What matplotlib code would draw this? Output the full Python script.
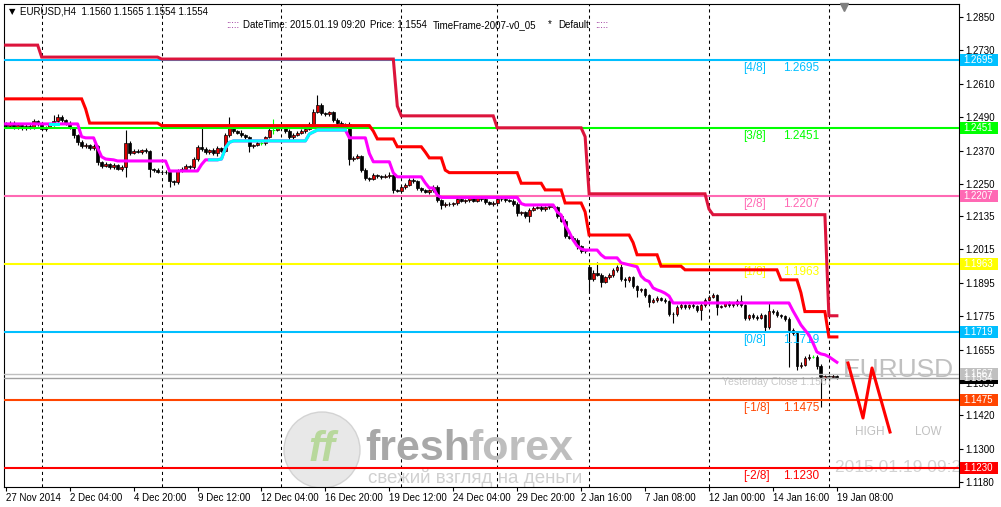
import numpy as np
import matplotlib.pyplot as plt
from matplotlib.patches import Rectangle, Ellipse
from matplotlib.transforms import blended_transform_factory

# EURUSD H4 candles, 27 Nov 2014 .. 19 Jan 2015 08:00 (one value per bar)
closes = [
    1.2460, 1.2470, 1.2455, 1.2462, 1.2450, 1.2458, 1.2452, 1.2475, 1.2465, 1.2448,
    1.2455, 1.2462, 1.2478, 1.2490, 1.2480, 1.2470, 1.2452, 1.2425, 1.2400, 1.2385,
    1.2390, 1.2380, 1.2385, 1.2328, 1.2315, 1.2322, 1.2310, 1.2318, 1.2305, 1.2312,
    1.2398, 1.2362, 1.2370, 1.2365, 1.2372, 1.2368, 1.2305, 1.2300, 1.2295, 1.2292,
    1.2295, 1.2260, 1.2256, 1.2300, 1.2305, 1.2315, 1.2310, 1.2340, 1.2383, 1.2375,
    1.2365, 1.2372, 1.2360, 1.2378, 1.2370, 1.2426, 1.2450, 1.2440, 1.2435, 1.2425,
    1.2418, 1.2385, 1.2390, 1.2398, 1.2398, 1.2419, 1.2445, 1.2445, 1.2450, 1.2455,
    1.2440, 1.2418, 1.2428, 1.2435, 1.2442, 1.2448, 1.2465, 1.2509, 1.2534, 1.2505,
    1.2500, 1.2508, 1.2480, 1.2470, 1.2462, 1.2465, 1.2340, 1.2345, 1.2352, 1.2302,
    1.2272, 1.2268, 1.2282, 1.2278, 1.2275, 1.2280, 1.2284, 1.2229, 1.2226, 1.2240,
    1.2247, 1.2265, 1.2260, 1.2236, 1.2228, 1.2222, 1.2228, 1.2240, 1.2193, 1.2175,
    1.2180, 1.2178, 1.2182, 1.2195, 1.2190, 1.2192, 1.2200, 1.2190, 1.2200, 1.2195,
    1.2185, 1.2180, 1.2183, 1.2195, 1.2198, 1.2192, 1.2190, 1.2180, 1.2145, 1.2150,
    1.2135, 1.2157, 1.2165, 1.2168, 1.2160, 1.2168, 1.2172, 1.2168, 1.2135, 1.2118,
    1.2062, 1.2058, 1.2050, 1.2026, 1.2008, 1.2010, 1.1908, 1.1932, 1.1925, 1.1900,
    1.1915, 1.1925, 1.1940, 1.1952, 1.1910, 1.1905, 1.1915, 1.1885, 1.1868, 1.1872,
    1.1850, 1.1828, 1.1832, 1.1840, 1.1835, 1.1830, 1.1785, 1.1782, 1.1808, 1.1815,
    1.1808, 1.1815, 1.1812, 1.1798, 1.1815, 1.1835, 1.1845, 1.1850, 1.1810, 1.1812,
    1.1822, 1.1815, 1.1818, 1.1830, 1.1815, 1.1768, 1.1780, 1.1772, 1.1770, 1.1778,
    1.1735, 1.1795, 1.1790, 1.1780, 1.1775, 1.1765, 1.1725, 1.1715, 1.1595, 1.1600,
    1.1625, 1.1630, 1.1630, 1.1595, 1.1555, 1.1560, 1.1558, 1.1562, 1.1554,
]
first_open = 1.2468
gap_opens = {146: 1.1953}  # weekend gap on 5 Jan

# wick lengths in pips above / below the body
wick_up = [
    6, 8, 5, 7, 4, 6, 9, 10, 5, 6, 5, 7, 20, 12, 8, 5, 6, 4, 5, 7,
    6, 5, 8, 6, 5, 7, 4, 6, 5, 8, 46, 6, 5, 7, 4, 6, 5, 4, 6, 5,
    5, 4, 6, 5, 7, 6, 5, 6, 8, 69, 7, 5, 6, 8, 5, 7, 40, 6, 5, 9,
    6, 5, 4, 6, 8, 5, 6, 39, 6, 5, 4, 6, 5, 7, 6, 5, 8, 10, 36, 8,
    5, 6, 5, 7, 6, 5, 8, 5, 6, 4, 6, 5, 7, 5, 6, 5, 8, 6, 5, 7,
    6, 8, 5, 6, 4, 5, 6, 8, 7, 5, 5, 6, 4, 8, 5, 6, 7, 5, 8, 6,
    5, 4, 6, 7, 8, 13, 5, 6, 5, 4, 5, 6, 8, 5, 6, 5, 7, 6, 5, 4,
    6, 5, 7, 5, 6, 5, 12, 10, 38, 6, 5, 6, 8, 7, 10, 5, 6, 5, 4, 6,
    5, 6, 7, 8, 5, 6, 5, 4, 6, 7, 5, 6, 7, 5, 8, 6, 5, 7, 6, 5,
    6, 8, 5, 6, 22, 6, 5, 7, 6, 8, 6, 31, 5, 6, 4, 5, 6, 8, 5, 10,
    6, 8, 6, 5, 8, 6, 5, 6, 4,
]
wick_dn = [
    6, 5, 8, 6, 7, 5, 6, 4, 7, 5, 6, 5, 4, 5, 6, 7, 5, 8, 10, 6,
    5, 7, 6, 8, 6, 5, 7, 5, 6, 7, 36, 6, 5, 4, 6, 5, 29, 6, 5, 7,
    6, 20, 8, 5, 6, 5, 7, 5, 6, 5, 6, 7, 5, 8, 6, 5, 6, 7, 5, 6,
    7, 20, 6, 5, 8, 6, 5, 15, 5, 6, 6, 8, 5, 6, 5, 7, 5, 6, 5, 6,
    5, 6, 8, 5, 6, 7, 20, 6, 5, 8, 7, 6, 5, 8, 6, 5, 7, 10, 6, 5,
    6, 5, 7, 8, 6, 5, 6, 5, 9, 14, 6, 5, 7, 6, 5, 8, 6, 5, 6, 7,
    6, 5, 7, 5, 6, 6, 5, 7, 8, 6, 7, 21, 5, 6, 7, 5, 6, 5, 8, 6,
    7, 6, 5, 8, 6, 5, 49, 6, 5, 20, 6, 5, 7, 5, 8, 25, 6, 8, 23, 5,
    6, 19, 5, 6, 5, 7, 8, 31, 6, 5, 6, 5, 7, 8, 36, 5, 6, 5, 30, 6,
    5, 6, 5, 7, 6, 8, 5, 6, 7, 5, 16, 6, 5, 7, 6, 8, 132, 8, 13, 6,
    5, 6, 6, 8, 106, 7, 5, 6, 5,
]

# step lines of the indicator (bar index, price)
upper_bars = [0, 8, 9, 38, 39, 97, 98, 99, 122, 123, 144, 145, 146, 175, 176, 177, 205, 206, 208]
upper_vals = [1.2749, 1.2749, 1.2706, 1.2706, 1.2699, 1.2699, 1.2530, 1.2495, 1.2495, 1.2452,
              1.2452, 1.2420, 1.2215, 1.2215, 1.2160, 1.2140, 1.2140, 1.1777, 1.1777]
stop_bars = [0, 19, 20, 21, 38, 39, 91, 92, 93, 97, 98, 104, 105, 106, 109, 110, 111, 128, 129, 134,
             135, 139, 140, 144, 145, 146, 156, 157, 158, 163, 164, 169, 170, 193, 194, 198, 199, 200, 205, 206, 208]
stop_vals = [1.2556, 1.2556, 1.2520, 1.2469, 1.2469, 1.2460, 1.2460, 1.2440, 1.2412, 1.2412,
             1.2384, 1.2384, 1.2365, 1.2344, 1.2344, 1.2300, 1.2291, 1.2291, 1.2253, 1.2253,
             1.2229, 1.2229, 1.2182, 1.2182, 1.2150, 1.2067, 1.2067, 1.2040, 1.1996, 1.1996,
             1.1955, 1.1955, 1.1942, 1.1942, 1.1906, 1.1906, 1.1860, 1.1792, 1.1792, 1.1701, 1.1701]
ma_bars = [0, 11, 13, 18, 19, 20, 22, 23, 24, 25, 27, 28, 40, 41, 48, 49, 50, 51, 53, 54,
           55, 56, 57, 75, 76, 77, 78, 85, 86, 90, 91, 92, 96, 97, 98, 104, 105, 106, 107, 108,
           109, 128, 129, 130, 137, 138, 139, 140, 141, 142, 143, 144, 145, 148, 149, 150, 153, 154, 156, 158,
           159, 160, 161, 162, 163, 164, 165, 166, 167, 196, 197, 198, 199, 200, 201, 202, 203, 204, 205,
           206, 207, 208]
ma_vals = [1.2466, 1.2466, 1.2466, 1.2466, 1.2420, 1.2416, 1.2416, 1.2380, 1.2348, 1.2340,
           1.2337, 1.2333, 1.2333, 1.2297, 1.2297, 1.2320, 1.2337, 1.2337, 1.2337, 1.2340,
           1.2380, 1.2400, 1.2405, 1.2405, 1.2430, 1.2437, 1.2444, 1.2444, 1.2416, 1.2416,
           1.2360, 1.2330, 1.2330, 1.2290, 1.2276, 1.2276, 1.2254, 1.2236, 1.2236, 1.2210,
           1.2202, 1.2202, 1.2180, 1.2175, 1.2175, 1.2150, 1.2139, 1.2103, 1.2078, 1.2049,
           1.2028, 1.2017, 1.2013, 1.2013, 1.1996, 1.1985, 1.1985, 1.1967, 1.1960, 1.1953,
           1.1920, 1.1906, 1.1900, 1.1877, 1.1870, 1.1865, 1.1858, 1.1848, 1.1823, 1.1823,
           1.1795, 1.1770, 1.1744, 1.1726, 1.1708, 1.1680, 1.1647, 1.1640, 1.1637, 1.1630,
           1.1620, 1.1610]
ma_up_ranges = [(11, 13), (51, 85)]

# Murrey math levels
level_names = ['[4/8]', '[3/8]', '[2/8]', '[1/8]', '[0/8]', '[-1/8]', '[-2/8]']
level_vals = [1.2695, 1.2451, 1.2207, 1.1963, 1.1719, 1.1475, 1.1230]
level_colors = ['#00BFFF', '#00FF00', '#FF69B4', '#FFFF00', '#00BFFF', '#FF4500', '#FF0000']
yest_close = 1.1567
bid = 1.1554

tick_bars = [0, 16, 32, 48, 64, 80, 96, 112, 128, 144, 160, 176, 192, 208]
tick_labels = ['27 Nov 2014', '2 Dec 04:00', '4 Dec 20:00', '9 Dec 12:00', '12 Dec 04:00',
               '16 Dec 20:00', '19 Dec 12:00', '24 Dec 04:00', '29 Dec 20:00', '2 Jan 16:00',
               '7 Jan 08:00', '12 Jan 00:00', '14 Jan 16:00', '19 Jan 08:00']
week_bars = [9, 39, 69, 99, 123, 146, 176, 206]
price_ticks = [1.2850, 1.2730, 1.2610, 1.2490, 1.2370, 1.2250, 1.2135, 1.2015,
               1.1895, 1.1775, 1.1655, 1.1535, 1.1420, 1.1300, 1.1180]

plt.rcParams['font.family'] = ['Liberation Sans', 'DejaVu Sans']

fig = plt.figure(figsize=(10.01, 5.07), dpi=100)
ax = fig.add_axes([4 / 1001, 20 / 507, 955 / 1001, 483 / 507])
ax.set_xlim(-0.425, 238.56)
ax.set_ylim(1.11620, 1.28967)
px_price = (1.2850 - 1.1180) / 465


def axf(px, py):
    # pixel position -> axes fraction
    return (px - 4) / 955, (487 - py) / 483


# weekly separators
for b in week_bars:
    ax.axvline(b, color='black', lw=0.75, ls=(0, (3, 3)), zorder=1)

# candles
c = np.array(closes)
o = np.r_[first_open, c[:-1]]
for i, g in gap_opens.items():
    o[i] = g
hi = np.maximum(o, c) + np.array(wick_up) / 1e4
lo = np.minimum(o, c) - np.array(wick_dn) / 1e4
x = np.arange(len(c))
doji = c == o
bull = c > o
bear = c < o
ax.vlines(x[~doji], lo[~doji], hi[~doji], color='black', lw=0.8, zorder=2)
ax.vlines(x[doji], lo[doji], hi[doji], color='#00FF00', lw=0.8, zorder=2)
ax.hlines(c[doji], x[doji] - 0.35, x[doji] + 0.35, color='#00FF00', lw=0.8, zorder=2)
ax.bar(x[bull], (c - o)[bull], bottom=o[bull], width=0.7, color='#E00000',
       edgecolor='black', lw=0.5, zorder=2.1)
ax.bar(x[bear], (o - c)[bear], bottom=c[bear], width=0.7, color='black',
       edgecolor='black', lw=0.5, zorder=2.1)

# levels
for name, val, col in zip(level_names, level_vals, level_colors):
    ax.axhline(val, color=col, lw=1.5, zorder=3)
    ax.text(184.5, val - 8 * px_price, name, color=col, fontsize=8.5, va='center', ha='left', zorder=3)
    ax.text(194.5, val - 8 * px_price, f'{val:.4f}', color=col, fontsize=8.5, va='center', ha='left', zorder=3)
ax.axhline(yest_close, color='#C0C0C0', lw=1, zorder=3)
ax.axhline(bid, color='#A0A0A0', lw=1, zorder=3)
ax.text(179.3, 1.15391, f'Yesterday Close {yest_close:.4f}', color='#C8C8C8', fontsize=7.5,
        va='center', ha='left', zorder=2.5)

# indicator lines
ax.plot(upper_bars, upper_vals, color='#DC143C', lw=2.2, zorder=4, solid_joinstyle='miter')
ax.plot(stop_bars, stop_vals, color='#FF0000', lw=2.2, zorder=4, solid_joinstyle='miter')
ax.plot(ma_bars, ma_vals, color='#FF00FF', lw=2.2, zorder=4)
mb = np.array(ma_bars)
mv = np.array(ma_vals)
for a, b in ma_up_ranges:
    m = (mb >= a) & (mb <= b)
    ax.plot(mb[m], mv[m], color='#00FFFF', lw=2.2, zorder=4.1)

# right side decorations
ax.text(*axf(843, 370), 'EURUSD', transform=ax.transAxes, color='#C0C0C0', fontsize=19,
        va='center', ha='left', zorder=2)
zx = [848, 863, 872, 890]
zy = [363, 418, 368, 432]
zz = [axf(a, b) for a, b in zip(zx, zy)]
ax.plot([p[0] for p in zz], [p[1] for p in zz], transform=ax.transAxes, color='#FF0000', lw=2.2, zorder=4)
ax.text(*axf(870, 432), 'HIGH', transform=ax.transAxes, color='#C0C0C0', fontsize=8.5, va='center', ha='center')
ax.text(*axf(928, 432), 'LOW', transform=ax.transAxes, color='#C0C0C0', fontsize=8.5, va='center', ha='center')
ax.text(*axf(835, 468), '2015.01.19 09:20', transform=ax.transAxes, color='#D3D3D3', fontsize=12.5,
        va='center', ha='left', clip_on=True, zorder=2)
ax.plot(*axf(844, 7), marker='v', ms=6, color='#808080', transform=ax.transAxes, clip_on=False, zorder=6)

# watermark
ax.add_patch(Ellipse(axf(322, 450), 76 / 955, 76 / 483, transform=ax.transAxes,
                     fc='#E6E6E6', ec='#D0D0D0', lw=1, zorder=1.5, alpha=0.9))
ax.text(*axf(322, 450), 'ff', transform=ax.transAxes, color='#B8D89C', fontsize=30, fontweight='bold',
        style='italic', va='center', ha='center', zorder=1.6)
ax.text(*axf(365, 449), 'fresh', transform=ax.transAxes, color='#A8A8A8', fontsize=31,
        fontweight='bold', va='center', ha='left', zorder=1.6)
ax.text(*axf(468, 449), 'forex', transform=ax.transAxes, color='#BEBEBE', fontsize=31,
        fontweight='bold', va='center', ha='left', zorder=1.6)
ax.text(*axf(368, 478), 'свежий взгляд на деньги', transform=ax.transAxes, color='#D0D0D0',
        fontsize=13.5, va='center', ha='left', zorder=1.6)

# price labels on the right
bt = blended_transform_factory(ax.transAxes, ax.transData)
box_h = 12 * px_price
boxes = list(zip(level_vals, level_colors)) + [(bid, 'black'), (yest_close, '#C0C0C0')]
for val, col in boxes:
    ax.add_patch(Rectangle((1.0008, val - box_h / 2), 38 / 955, box_h, transform=bt,
                           fc=col, ec='none', clip_on=False, zorder=5))
    ax.text(1.0008 + 4 / 955, val, f'{val:.4f}', transform=bt, color='white', fontsize=7,
            va='center', ha='left', clip_on=False, zorder=6)

# axes
ax.yaxis.tick_right()
ax.set_yticks(price_ticks, [f'{v:.4f}' for v in price_ticks])
ax.set_xticks(tick_bars, tick_labels)
for lbl in ax.get_xticklabels():
    lbl.set_ha('left')
ax.tick_params(axis='y', direction='out', length=3, width=0.8, pad=1.5, labelsize=7)
ax.tick_params(axis='x', direction='out', length=3, width=0.8, pad=1.5, labelsize=7)
for s in ax.spines.values():
    s.set_linewidth(0.8)

# header texts
fig.text(9 / 1001, 1 - 12 / 507, '▼', fontsize=6, family='DejaVu Sans', va='center', ha='left')
fig.text(20 / 1001, 1 - 12 / 507, 'EURUSD,H4  1.1560 1.1565 1.1554 1.1554', fontsize=7, va='center', ha='left')
fig.text(226 / 1001, 1 - 25 / 507, ':::::', fontsize=7, color='#800080', va='center', ha='left')
fig.text(243 / 1001, 1 - 25 / 507, 'DateTime: 2015.01.19 09:20', fontsize=7, va='center', ha='left')
fig.text(370 / 1001, 1 - 25 / 507, 'Price: 1.1554', fontsize=7, va='center', ha='left')
fig.text(433 / 1001, 1 - 25 / 507, 'TimeFrame-2007-v0_05', fontsize=7, va='center', ha='left')
fig.text(548 / 1001, 1 - 24 / 507, '*', fontsize=7, va='center', ha='left')
fig.text(558 / 1001, 1 - 25 / 507, 'Default', fontsize=7, va='center', ha='left')
fig.text(595 / 1001, 1 - 25 / 507, ':::::', fontsize=7, color='#800080', va='center', ha='left')

fig.savefig('out.png', dpi=100)
